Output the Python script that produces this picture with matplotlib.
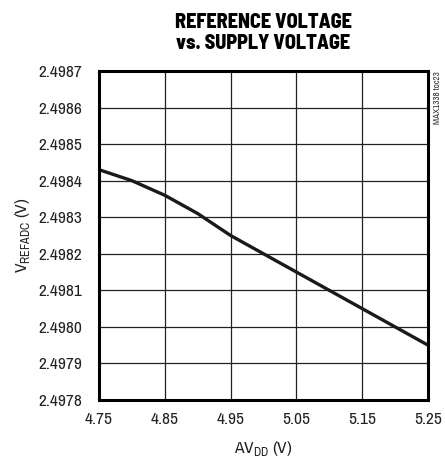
import matplotlib
matplotlib.use("Agg")
import matplotlib.pyplot as plt

avdd = [4.75, 4.80, 4.85, 4.90, 4.95, 5.00, 5.05, 5.10, 5.15, 5.20, 5.25]
vref = [2.49843, 2.49840, 2.49836, 2.49831, 2.49825, 2.49820,
        2.49815, 2.49810, 2.49805, 2.49800, 2.49795]

xticks = [4.75, 4.85, 4.95, 5.05, 5.15, 5.25]
yticks = [2.4978, 2.4979, 2.4980, 2.4981, 2.4982, 2.4983, 2.4984,
          2.4985, 2.4986, 2.4987]

font = "Archivo Narrow"
plt.rcParams['font.family'] = [font, 'DejaVu Sans']
plt.rcParams['mathtext.fontset'] = 'custom'
plt.rcParams['mathtext.rm'] = font

fig = plt.figure(figsize=(4.45, 4.62), dpi=100)
ax = fig.add_axes([99 / 445, 1 - 400 / 462, 329 / 445, 329 / 462])

ax.plot(avdd, vref, color="#1a1a1a", lw=2.4, solid_capstyle="butt")

ax.set_xlim(4.75, 5.25)
ax.set_ylim(2.4978, 2.4987)
ax.set_xticks(xticks)
ax.set_xticklabels([f"{v:.2f}" for v in xticks])
ax.set_yticks(yticks)
ax.set_yticklabels([f"{v:.4f}" for v in yticks])
ax.grid(True, color="#222222", lw=0.9)
ax.tick_params(length=0, labelsize=12.5, colors="#222222")
ax.tick_params(axis="x", pad=9)
ax.tick_params(axis="y", pad=12)
for s in ax.spines.values():
    s.set_linewidth(2.2)

ax.set_xlabel(r"AV$_{\mathrm{DD}}$ (V)", fontsize=12.5, labelpad=8, color="#222222")
ax.set_ylabel(r"V$_{\mathrm{REFADC}}$ (V)", fontsize=12.5, labelpad=5, color="#222222")

fig.text(263 / 445, 1 - 33 / 462, "REFERENCE VOLTAGE\nvs. SUPPLY VOLTAGE",
         ha="center", va="center", fontsize=14.5, fontweight=800,
         family=["Barlow Semi Condensed", "DejaVu Sans"], linespacing=1.15)
fig.text(437 / 445, 1 - 71 / 462, "MAX1338 toc23", rotation=90, ha="center",
         va="top", fontsize=6.5, color="#333333")

fig.savefig("out.png", dpi=100)
